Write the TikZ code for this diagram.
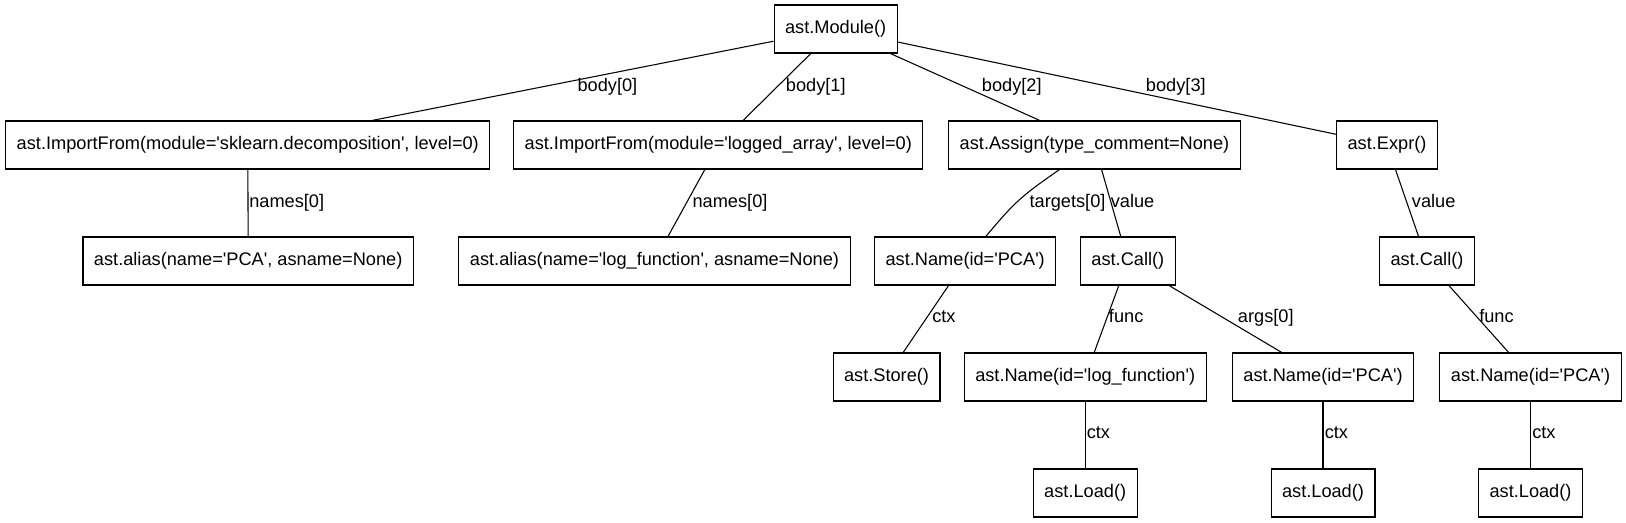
\documentclass[tikz,border=0pt]{standalone}
\usepackage{fontspec}
\setmainfont{Liberation Sans}
\newcommand\sq{\textquotesingle}
\begin{document}
\begin{tikzpicture}[x=0.75pt,y=-0.75pt,
  every node/.style={font=\fontsize{13.65}{16}\selectfont},
  box/.style={draw, line width=0.8pt, rectangle, minimum height=36pt, inner xsep=8.25pt, inner ysep=0pt},
  lbl/.style={anchor=base west, inner sep=0pt},
  edge/.style={line width=0.8pt}]
\useasboundingbox (0,0) rectangle (1626,523);
% nodes
\node[box] (mod)   at (835.6,29)  {ast.Module()};
\node[box] (imp1)  at (247.8,145) {ast.ImportFrom(module=\sq sklearn.decomposition\sq, level=0)};
\node[box] (imp2)  at (718.3,145) {ast.ImportFrom(module=\sq logged\_array\sq, level=0)};
\node[box] (asg)   at (1094.5,145) {ast.Assign(type\_comment=None)};
\node[box] (expr)  at (1387,145)  {ast.Expr()};
\node[box] (al1)   at (248.2,261) {ast.alias(name=\sq PCA\sq, asname=None)};
\node[box] (al2)   at (654.5,261) {ast.alias(name=\sq log\_function\sq, asname=None)};
\node[box] (nm1)   at (965.2,261) {ast.Name(id=\sq PCA\sq)};
\node[box] (call1) at (1127.8,261) {ast.Call()};
\node[box] (call2) at (1427,261)  {ast.Call()};
\node[box] (store) at (886.5,377) {ast.Store()};
\node[box] (nmlog) at (1085.2,377) {ast.Name(id=\sq log\_function\sq)};
\node[box] (nm2)   at (1323,377)  {ast.Name(id=\sq PCA\sq)};
\node[box] (nm3)   at (1530.5,377) {ast.Name(id=\sq PCA\sq)};
\node[box] (ld1)   at (1085.2,493) {ast.Load()};
\node[box] (ld2)   at (1323,493)  {ast.Load()};
\node[box] (ld3)   at (1530.5,493) {ast.Load()};
% edges
\draw[edge] (mod) -- (imp1);
\draw[edge] (mod) -- (imp2);
\draw[edge] (mod) -- (asg);
\draw[edge] (mod) -- (expr);
\draw[edge] (imp1) -- (al1);
\draw[edge] (imp2) -- (al2);
\draw[edge] (asg) to[out=215,in=50,looseness=1.2] (nm1);
\draw[edge] (asg) -- (call1);
\draw[edge] (expr) -- (call2);
\draw[edge] (nm1) -- (store);
\draw[edge] (call1) -- (nmlog);
\draw[edge] (call1) -- (nm2);
\draw[edge] (call2) -- (nm3);
\draw[edge] (nmlog) -- (ld1);
\draw[edge] (nm2) -- (ld2);
\draw[edge] (nm3) -- (ld3);
% edge labels
\node[lbl] (l1)  at (577.3,91.7)  {body[0]};
\node[lbl] (l2)  at (785.7,91.7)  {body[1]};
\node[lbl] (l3)  at (981.7,91.7)  {body[2]};
\node[lbl] (l4)  at (1145.7,91.7) {body[3]};
\node[lbl] (l5)  at (249,207.7)   {names[0]};
\node[lbl] (l6)  at (692.3,207.7) {names[0]};
\node[lbl] (l7)  at (1029.3,207.7) {targets[0]};
\node[lbl] (l8)  at (1110.5,207.7) {value};
\node[lbl] (l9)  at (1411.7,207.7) {value};
\node[lbl] (l10) at (932,322.7)   {ctx};
\node[lbl] (l11) at (1108.7,322.7) {func};
\node[lbl] (l12) at (1237.7,322.7) {args[0]};
\node[lbl] (l13) at (1479,322.7)  {func};
\node[lbl] (l14) at (1086.5,438.7) {ctx};
\node[lbl] (l15) at (1324.5,438.7) {ctx};
\node[lbl] (l16) at (1532,438.7)  {ctx};
\end{tikzpicture}
\end{document}
